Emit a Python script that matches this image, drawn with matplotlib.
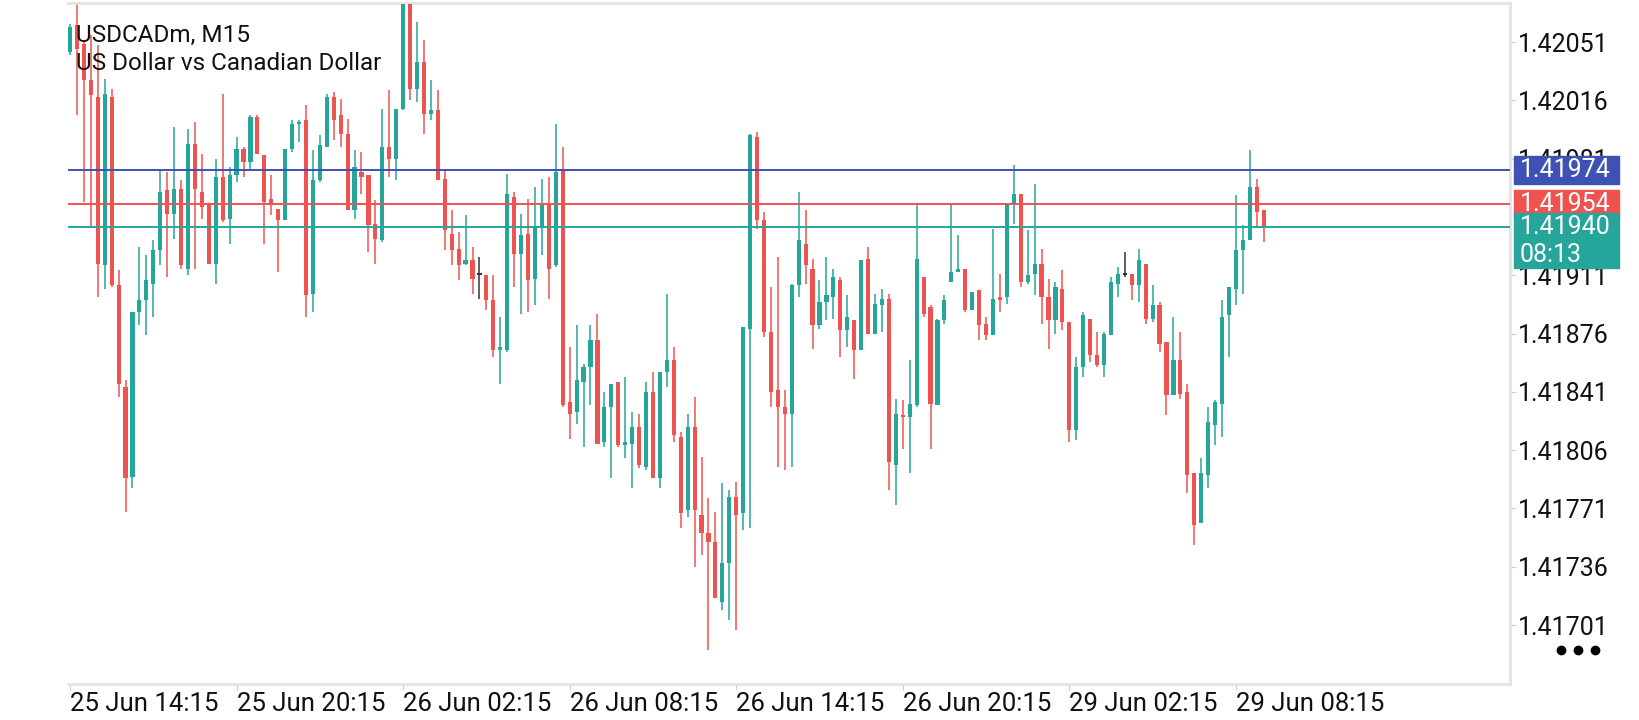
import numpy as np
import matplotlib
matplotlib.use("Agg")
import matplotlib.pyplot as plt
import matplotlib.transforms as mtransforms
from matplotlib.patches import Rectangle
from matplotlib.lines import Line2D

plt.rcParams['font.family'] = ['Roboto', 'DejaVu Sans']

symbol = "USDCADm, M15"
description = "US Dollar vs Canadian Dollar"

# quotes in points above 1.40000 (1 point = 0.00001), one M15 bar each
opens = [2045, 2061, 2050, 2028, 2018, 1917, 2018, 1905, 1844, 1790,
         1889, 1896, 1906, 1926, 1962, 1948, 1963, 1915, 1990, 1961,
         1954, 1918, 1970, 1945, 1971, 1987, 1979, 2006, 1983, 1957,
         1951, 1944, 1987, 2002, 2004, 1900, 1968, 1988, 2018, 2007,
         1996, 1950, 1973, 1971, 1942, 1932, 1988, 1981, 2011, 2074,
         2023, 2039, 2008, 2010, 1969, 1936, 1927, 1918, 1920, 1911,
         1911, 1896, 1866, 1866, 1958, 1924, 1936, 1909, 1940, 1954,
         1917, 1975, 1835, 1829, 1847, 1856, 1872, 1811, 1832, 1847,
         1809, 1810, 1820, 1796, 1841, 1789, 1853, 1860, 1814, 1770,
         1820, 1767, 1756, 1751, 1715, 1738, 1778, 1768, 1879, 1994,
         1944, 1877, 1842, 1832, 1828, 1905, 1930, 1915, 1881, 1895,
         1898, 1908, 1878, 1884, 1866, 1921, 1876, 1893, 1897, 1797,
         1827, 1826, 1833, 1910, 1892, 1833, 1884, 1907, 1913, 1915,
         1890, 1902, 1882, 1875, 1898, 1898, 1954, 1960, 1907, 1912,
         1918, 1898, 1884, 1903, 1883, 1818, 1856, 1885, 1863, 1857,
         1875, 1906, 1911, 1912, 1905, 1918, 1885, 1893, 1871, 1839,
         1860, 1841, 1792, 1762, 1791, 1821, 1834, 1887, 1903, 1926,
         1932, 1964, 1950]
highs = [2062, 2074, 2052, 2055, 2049, 2029, 2023, 1914, 1848, 1889,
         1928, 1923, 1932, 1974, 1973, 2000, 1968, 1999, 2003, 1984,
         1954, 1981, 2020, 1976, 1994, 1988, 2007, 2007, 1983, 1971,
         1951, 1987, 2004, 2004, 2013, 1986, 1995, 2020, 2021, 2017,
         2005, 1986, 1985, 1971, 1956, 2011, 2022, 2011, 2075, 2075,
         2063, 2052, 2028, 2022, 1975, 1950, 1937, 1947, 1928, 1922,
         1911, 1911, 1886, 1972, 1961, 1948, 1957, 1964, 1969, 1970,
         2002, 1988, 1868, 1881, 1858, 1881, 1888, 1841, 1846, 1847,
         1850, 1829, 1828, 1847, 1853, 1853, 1900, 1868, 1817, 1828,
         1838, 1802, 1777, 1769, 1786, 1782, 1787, 1880, 1996, 1997,
         1949, 1904, 1922, 1842, 1906, 1961, 1950, 1921, 1908, 1922,
         1915, 1910, 1899, 1884, 1920, 1928, 1900, 1903, 1900, 1837,
         1836, 1860, 1953, 1910, 1893, 1885, 1899, 1953, 1935, 1915,
         1901, 1902, 1886, 1939, 1912, 1954, 1977, 1960, 1938, 1966,
         1927, 1909, 1907, 1914, 1883, 1862, 1889, 1885, 1877, 1877,
         1910, 1916, 1925, 1912, 1927, 1918, 1905, 1895, 1871, 1886,
         1877, 1846, 1792, 1801, 1832, 1836, 1896, 1904, 1959, 1941,
         1986, 1969, 1950]
lows = [2043, 2007, 1955, 1940, 1898, 1903, 1904, 1838, 1769, 1783,
        1881, 1875, 1886, 1917, 1910, 1933, 1915, 1911, 1915, 1945,
        1918, 1906, 1943, 1930, 1967, 1970, 1975, 1984, 1930, 1947,
        1913, 1944, 1985, 1991, 1886, 1889, 1967, 1988, 1992, 1988,
        1950, 1945, 1960, 1925, 1918, 1931, 1970, 1968, 2010, 2016,
        2015, 1996, 2004, 1968, 1926, 1917, 1908, 1917, 1900, 1897,
        1890, 1862, 1846, 1865, 1904, 1888, 1889, 1893, 1923, 1897,
        1916, 1832, 1813, 1822, 1808, 1833, 1810, 1808, 1789, 1808,
        1801, 1783, 1795, 1794, 1789, 1783, 1844, 1811, 1759, 1766,
        1736, 1743, 1686, 1717, 1710, 1704, 1698, 1758, 1759, 1939,
        1874, 1832, 1796, 1794, 1796, 1898, 1906, 1867, 1879, 1884,
        1885, 1862, 1868, 1849, 1866, 1876, 1876, 1877, 1782, 1773,
        1807, 1792, 1832, 1886, 1807, 1833, 1882, 1907, 1913, 1889,
        1890, 1872, 1872, 1875, 1889, 1894, 1942, 1904, 1906, 1899,
        1882, 1867, 1876, 1878, 1811, 1812, 1850, 1859, 1856, 1850,
        1875, 1898, 1910, 1896, 1895, 1882, 1883, 1865, 1827, 1839,
        1837, 1780, 1749, 1762, 1783, 1809, 1814, 1862, 1893, 1900,
        1932, 1940, 1931]
closes = [2060, 2047, 2028, 2019, 1918, 2020, 1905, 1846, 1789, 1889,
          1896, 1908, 1926, 1961, 1948, 1963, 1917, 1990, 1963, 1952,
          1918, 1970, 1944, 1971, 1987, 1979, 2006, 1984, 1955, 1953,
          1944, 1987, 2002, 2003, 1899, 1968, 1989, 2018, 2004, 1996,
          1950, 1976, 1970, 1941, 1933, 1988, 1981, 2011, 2074, 2023,
          2039, 2008, 2010, 1968, 1938, 1926, 1917, 1920, 1909, 1911,
          1896, 1866, 1868, 1960, 1924, 1935, 1908, 1940, 1954, 1915,
          1973, 1833, 1828, 1848, 1856, 1872, 1810, 1832, 1846, 1809,
          1811, 1820, 1797, 1841, 1789, 1853, 1860, 1815, 1768, 1820,
          1770, 1756, 1751, 1717, 1738, 1778, 1767, 1880, 1995, 1944,
          1877, 1841, 1832, 1828, 1905, 1932, 1917, 1881, 1895, 1899,
          1910, 1878, 1886, 1866, 1920, 1876, 1894, 1897, 1799, 1828,
          1826, 1834, 1921, 1888, 1834, 1884, 1896, 1913, 1915, 1890,
          1901, 1881, 1875, 1897, 1896, 1954, 1960, 1907, 1911, 1918,
          1898, 1884, 1904, 1883, 1818, 1856, 1887, 1863, 1857, 1876,
          1907, 1912, 1911, 1905, 1920, 1885, 1893, 1870, 1839, 1860,
          1840, 1791, 1761, 1792, 1823, 1835, 1886, 1904, 1926, 1932,
          1964, 1949, 1940]

time_labels = ["25 Jun 14:15", "25 Jun 20:15", "26 Jun 02:15", "26 Jun 08:15",
               "26 Jun 14:15", "26 Jun 20:15", "29 Jun 02:15", "29 Jun 08:15"]
bars_per_label = 24
# 1.41946 sits fully under the price tags, so it is not listed
price_ticks = [1.42051, 1.42016, 1.41981, 1.41911, 1.41876,
               1.41841, 1.41806, 1.41771, 1.41736, 1.41701]

level_price = 1.41974
ask_price = 1.41954
bid_price = 1.41940
countdown = "08:13"

GREEN = '#26a69a'
RED = '#ef5350'
BLUE = '#3f51b5'
DOJI = '#333333'
FRAME = '#e4e4e4'
TXT = '#111111'

o = 1.4 + np.array(opens) / 1e5
h = 1.4 + np.array(highs) / 1e5
l = 1.4 + np.array(lows) / 1e5
c = 1.4 + np.array(closes) / 1e5
x = np.arange(len(o))

colors = np.where(c > o, GREEN, np.where(c < o, RED, DOJI))

fig = plt.figure(figsize=(16.4, 7.2), dpi=100)
ax = fig.add_axes([68 / 1640, 36 / 720, 1442 / 1640, 681 / 720])

ax.vlines(x, l, h, colors=colors, lw=1.1, zorder=2)
body_low = np.minimum(o, c)
body_h = np.maximum(np.abs(c - o), 0.000012)
ax.bar(x, body_h, bottom=body_low, width=0.6, color=colors, lw=0, zorder=3)

ax.set_xlim(-0.29, 207.5)
ax.set_ylim(1.416656, 1.420745)

ax.axhline(level_price, color=BLUE, lw=1.4, zorder=4)
ax.axhline(ask_price, color=RED, lw=1.4, zorder=4)
ax.axhline(bid_price, color=GREEN, lw=1.4, zorder=4)

for side in ['top', 'right', 'bottom']:
    ax.spines[side].set_color(FRAME)
    ax.spines[side].set_linewidth(2)
ax.spines['left'].set_visible(False)

ax.yaxis.tick_right()
ax.set_yticks(price_ticks)
ax.set_yticklabels([f"{p:.5f}" for p in price_ticks])
ax.tick_params(axis='y', length=4, color='#cfcfcf', pad=2, labelsize=18, labelcolor=TXT)

ax.set_xticks(np.arange(len(time_labels)) * bars_per_label)
ax.set_xticklabels(time_labels)
for lbl in ax.get_xticklabels():
    lbl.set_ha('left')
ax.tick_params(axis='x', length=4, color='#cfcfcf', pad=2, labelsize=18.5, labelcolor=TXT)

# price tags on the right scale
trans = mtransforms.blended_transform_factory(ax.transAxes, ax.transData)
tag_x = 1.0028
tag_w = 0.0728
half = 0.0000840
ax.add_patch(Rectangle((tag_x, level_price - half), tag_w, 2 * half, transform=trans,
                       color=BLUE, clip_on=False, zorder=6))
ax.text(tag_x + 0.004, level_price, f"{level_price:.5f}", transform=trans, color='white',
        fontsize=18, va='center', ha='left', clip_on=False, zorder=7)
ax.add_patch(Rectangle((tag_x, ask_price - half), tag_w, 2 * half, transform=trans,
                       color=RED, clip_on=False, zorder=6))
ax.text(tag_x + 0.004, ask_price, f"{ask_price:.5f}", transform=trans, color='white',
        fontsize=18, va='center', ha='left', clip_on=False, zorder=7)
ax.add_patch(Rectangle((tag_x, bid_price - 0.000248), tag_w, 0.000330, transform=trans,
                       color=GREEN, clip_on=False, zorder=8))
ax.text(tag_x + 0.004, bid_price, f"{bid_price:.5f}", transform=trans, color='white',
        fontsize=18, va='center', ha='left', clip_on=False, zorder=9)
ax.text(tag_x + 0.004, bid_price - 0.000170, countdown, transform=trans, color='white',
        fontsize=18, va='center', ha='left', clip_on=False, zorder=9)

fig.text(76 / 1640, 1 - 42 / 720, symbol, fontsize=17.5, color=TXT, va='baseline')
fig.text(76 / 1640, 1 - 70 / 720, description, fontsize=17.5, color=TXT, va='baseline')

fig.add_artist(Line2D([1561 / 1640, 1578 / 1640, 1595 / 1640], [1 - 650 / 720] * 3,
                      transform=fig.transFigure, ls='', marker='o', ms=6, color='#000000'))

fig.savefig("out.png", dpi=100, facecolor='white')
